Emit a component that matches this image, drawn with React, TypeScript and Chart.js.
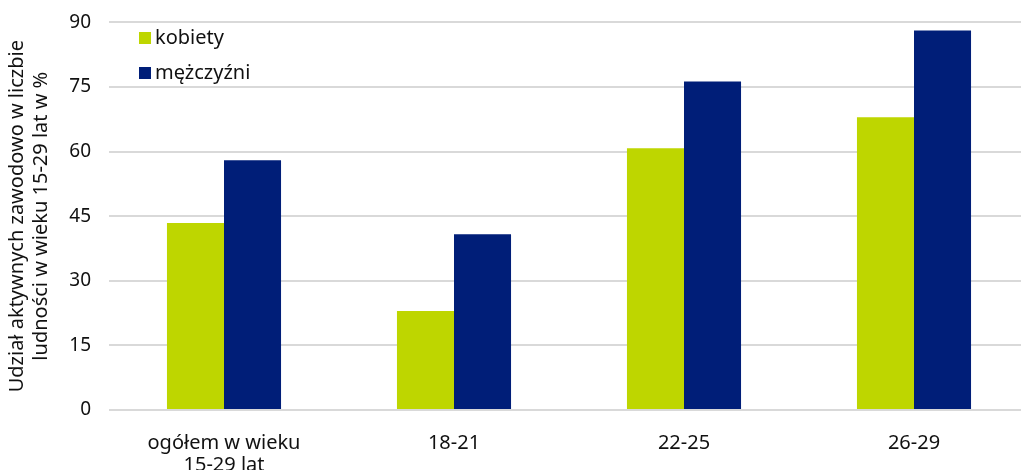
import React, { useEffect, useRef } from "react";
import { Chart, registerables } from "chart.js";

Chart.register(...registerables);

const categories: (string | string[])[] = [["ogółem w wieku", "15-29 lat"], "18-21", "22-25", "26-29"];
const kobiety = [43.4, 23.0, 60.8, 68.0];
const mezczyzni = [58.0, 40.8, 76.3, 88.1];
const seriesNames = ["kobiety", "mężczyźni"];
const yTicks = [0, 15, 30, 45, 60, 75, 90];
const yTitle = ["Udział aktywnych zawodowo w liczbie", "ludności w wieku 15-29 lat w %"];

const GREEN = "#BED600";
const NAVY = "#001E78";
const FONT = "'Noto Sans', 'Open Sans', sans-serif";
const TEXT = "#111111";

const legendPlugin = {
  id: "insideLegend",
  afterDraw(chart: any) {
    const ctx = chart.ctx;
    ctx.save();
    ctx.font = `20px ${FONT}`;
    ctx.textBaseline = "middle";
    ctx.textAlign = "left";
    chart.data.datasets.forEach((ds: any, i: number) => {
      const y = 38 + i * 35;
      ctx.fillStyle = ds.backgroundColor;
      ctx.fillRect(139, y - 6, 12, 12);
      ctx.fillStyle = TEXT;
      ctx.fillText(ds.label, 155, y);
    });
    ctx.restore();
  },
};

export default function App() {
  const ref = useRef<HTMLCanvasElement | null>(null);
  useEffect(() => {
    if (!ref.current) return;
    const chart = new Chart(ref.current, {
      type: "bar",
      data: {
        labels: categories,
        datasets: [
          { label: seriesNames[0], data: kobiety, backgroundColor: GREEN },
          { label: seriesNames[1], data: mezczyzni, backgroundColor: NAVY },
        ],
      },
      options: {
        responsive: false,
        animation: false,
        layout: { padding: { top: 0, left: 0, right: 0, bottom: 0 } },
        plugins: { legend: { display: false }, tooltip: { enabled: false } },
        datasets: { bar: { categoryPercentage: 0.496, barPercentage: 1 } },
        scales: {
          x: {
            grid: { display: false },
            border: { display: false },
            ticks: { color: TEXT, font: { family: FONT, size: 20, lineHeight: 1.1 }, padding: 14, maxRotation: 0 },
            afterFit: (s: any) => { s.height = 60; },
          },
          y: {
            min: 0,
            max: 90,
            afterBuildTicks: (s: any) => { s.ticks = yTicks.map((v) => ({ value: v })); },
            grid: { color: "#d9d9d9", lineWidth: 2, drawTicks: true, tickLength: 7, tickColor: "rgba(0,0,0,0)" },
            border: { display: false },
            ticks: { color: TEXT, font: { family: FONT, size: 19 }, padding: 11 },
            title: {
              display: true,
              text: yTitle,
              color: TEXT,
              font: { family: FONT, size: 20, lineHeight: 1.22 },
              padding: { top: 5, bottom: 0 },
            },
            afterFit: (s: any) => { s.width = 109; },
          },
        },
      },
      plugins: [legendPlugin],
    });
    return () => chart.destroy();
  }, []);
  return (
    <div style={{ position: "absolute", left: 0, top: 0, width: 1021, height: 470, overflow: "hidden", background: "#fff" }}>
      <canvas ref={ref} width={1029} height={470} />
    </div>
  );
}
